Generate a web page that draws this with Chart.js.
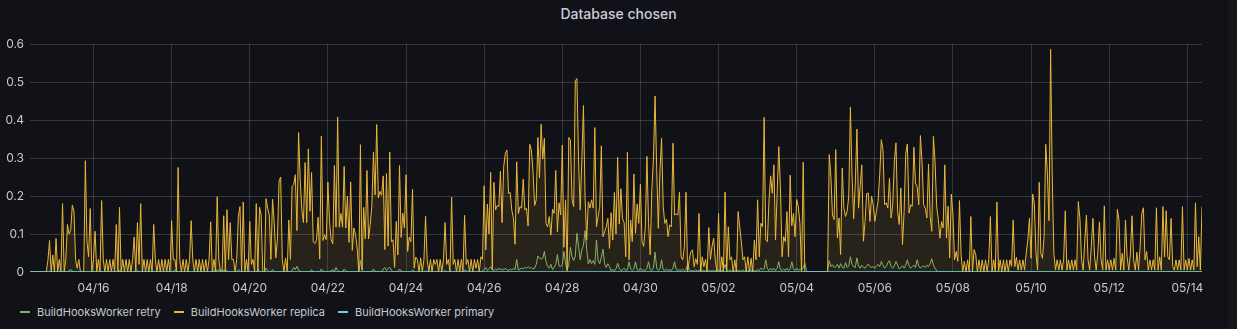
<!DOCTYPE html>
<html>
<head>
<meta charset="utf-8">
<script src="https://cdn.jsdelivr.net/npm/chart.js@4.4.1/dist/chart.umd.min.js"></script>
<style>
  html, body { margin: 0; padding: 0; background: #111217; }
  body { width: 1237px; height: 329px; position: relative; overflow: hidden; font-family: Inter, "Noto Sans", sans-serif; }
  #title { position: absolute; top: 5px; left: 0; width: 1237px; text-align: center; color: #ccccdc; font-size: 14px; font-weight: 500; }
  #chart { position: absolute; top: 0; left: 0; }
  #legend { position: absolute; top: 304px; left: 20px; color: #c7c9d1; font-size: 11px; line-height: 16px; white-space: nowrap; }
  #legend span.item { display: inline-block; margin-right: 13px; }
  #legend span.mark { display: inline-block; width: 10px; height: 2px; vertical-align: middle; margin-right: 7px; position: relative; top: -1px; }
  #edge { position: absolute; top: 0; left: 1228px; width: 9px; height: 329px; background: #16171c; }
</style>
</head>
<body>
<div id="title">Database chosen</div>
<canvas id="chart" width="1237" height="300"></canvas>
<div id="legend"></div>
<div id="edge"></div>
<script>
// hourly samples, starting 04/14 ~09:00, one line per day
const replica = [
  0,0,0,0,0,0,0,0,0,0,0,0.03,0.083,0,0.045,0,0.088,0,0.033,0,0.18,0,0.033,0.125,
  0.1,0.11,0.176,0.16,0.033,0.01,0.033,0,0,0,0.293,0.08,0.04,0.167,0,0.033,0.107,0,0.033,0,0.188,0.033,0,0.033,
  0,0.033,0,0.033,0,0.125,0,0.17,0,0.033,0,0.033,0,0.033,0,0.033,0.092,0,0.13,0.02,0.18,0,0.033,0,
  0.033,0,0.033,0,0.125,0.033,0,0.033,0,0.033,0,0.033,0,0.033,0,0.135,0.033,0.033,0,0.275,0.033,0,0.033,0,
  0.033,0,0.033,0.135,0.033,0,0.033,0,0.033,0,0.033,0,0.033,0,0.033,0.132,0,0.033,0,0.198,0.033,0,0,0.148,
  0,0.164,0.033,0.13,0.033,0.033,0,0.033,0.146,0.172,0,0.184,0,0.033,0,0.133,0.02,0.033,0,0.18,0,0.171,0.15,0,
  0,0.193,0.168,0.15,0.033,0.192,0.133,0.037,0.087,0.24,0.25,0.033,0,0.037,0,0.137,0.033,0.225,0.23,0.256,0.109,0.367,0.242,0.164,
  0.13,0.288,0.13,0.324,0.16,0.262,0.08,0.075,0.085,0.144,0.034,0.358,0.083,0.098,0.085,0.237,0.133,0.085,0.074,0.28,0.118,0.408,0.118,0.154,
  0.118,0.278,0.116,0.2,0.078,0.237,0.057,0.116,0.098,0.063,0,0.335,0.006,0.17,0.087,0.267,0.087,0.125,0.173,0.316,0.203,0.388,0.195,0.212,
  0.202,0.253,0.059,0.259,0.068,0.316,0.08,0.085,0.012,0.133,0.045,0.28,0.091,0.155,0.116,0.256,0.054,0.092,0.08,0.218,0.01,0.039,0.033,0,
  0.037,0,0.033,0.147,0.033,0,0.033,0,0.033,0.02,0.033,0,0.033,0,0.033,0.13,0.02,0.033,0,0.197,0.02,0.033,0,0.033,
  0,0.033,0,0.149,0.02,0.033,0,0.033,0,0.033,0.01,0.033,0,0.04,0.033,0.227,0.058,0.179,0.1,0.262,0.005,0.236,0.163,0.175,
  0.172,0.265,0.13,0.277,0.312,0.321,0.207,0.209,0.163,0.141,0.073,0.29,0.154,0.172,0.168,0.244,0.163,0.168,0.121,0.336,0.321,0.266,0.175,0.19,
  0.354,0.248,0.389,0.297,0.352,0.128,0.119,0.146,0.097,0.165,0.154,0.267,0.106,0.182,0.15,0.334,0.065,0.19,0.003,0.354,0.347,0.19,0.172,0.503,
  0.509,0.295,0.163,0.295,0.438,0.198,0.084,0.185,0.168,0.19,0.168,0.38,0.119,0.146,0.172,0.332,0.093,0.106,0.119,0.141,0.062,0.156,0.084,0.209,
  0.1,0.302,0.126,0.219,0.141,0.13,0.04,0.315,0.032,0.137,0.08,0.258,0.102,0.179,0.128,0.231,0.08,0.067,0.119,0.304,0.128,0.045,0.216,0.3,
  0.463,0.27,0.115,0.268,0.352,0.172,0.128,0.139,0.093,0.124,0.119,0.339,0.15,0.153,0.15,0.21,0.04,0.032,0.067,0.21,0,0.033,0.054,0.058,
  0.014,0.035,0.02,0.154,0,0.04,0.014,0.033,0,0.117,0.033,0.067,0.089,0.032,0,0.154,0,0.04,0,0.21,0,0.119,0.032,0.04,
  0,0.032,0,0.159,0.119,0.08,0.032,0.04,0,0.04,0,0.036,0,0.084,0.032,0.19,0.04,0.128,0.119,0.407,0.084,0.08,0.19,0.253,
  0.207,0.282,0.084,0.207,0.33,0.225,0.04,0.093,0.08,0.159,0.04,0.255,0.122,0.154,0.093,0.191,0.172,0.128,0,0.289,0,0,0,0,
  0,0,0,0,0,0,0,0,0,0,0,0.309,0.252,0.15,0.138,0.322,0.09,0.142,0.046,0.274,0.168,0.146,0.16,0.2,
  0.434,0.256,0.14,0.234,0.376,0.168,0.227,0.282,0.081,0.133,0.206,0.208,0.133,0.2,0.177,0.133,0.16,0.186,0.256,0.348,0.322,0.177,0.182,0.168,
  0.247,0.142,0.177,0.291,0.34,0.16,0.125,0.221,0.072,0.16,0.313,0.337,0.155,0.177,0.173,0.328,0.234,0.225,0.177,0.359,0.291,0.177,0.168,0.142,
  0.284,0.146,0.107,0.357,0.291,0.173,0.138,0.089,0.133,0.116,0.282,0.089,0.173,0.037,0.205,0.151,0.032,0.054,0.028,0.188,0.046,0,0.028,0,
  0.032,0,0.146,0,0.059,0.046,0,0.032,0,0.032,0,0.032,0,0.032,0.146,0,0.032,0,0.184,0,0.032,0,0.032,0,
  0.032,0,0.032,0.015,0.137,0.014,0.039,0.005,0.032,0.005,0.032,0.005,0.049,0.084,0.141,0.036,0.205,0.18,0.049,0.005,0.236,0.049,0.036,0.093,
  0.336,0.26,0.135,0.586,0.25,0.049,0.005,0.032,0.005,0.032,0.005,0.032,0.161,0.005,0.032,0.005,0.032,0.005,0.032,0.005,0.185,0.141,0.032,0.005,
  0.084,0.15,0.032,0.005,0.067,0.141,0.04,0.005,0.049,0.132,0.032,0.005,0.174,0.005,0.032,0.005,0.032,0.005,0.036,0.005,0.165,0.137,0.005,0.049,
  0.005,0.137,0.04,0.005,0.049,0.148,0.032,0.005,0.052,0.005,0.067,0.154,0.169,0.032,0.054,0.005,0.032,0.005,0.032,0.005,0.169,0.005,0.04,0.005,
  0.172,0.04,0.161,0.04,0.032,0.141,0.014,0.005,0.032,0.005,0.032,0.005,0.172,0.005,0.032,0.005,0.036,0.005,0.032,0.005,0.182,0.014,0.093,0.005,
  0.172
];

const retry = [
  0,0,0,0,0,0,0,0,0,0,0,0,0,0,0,0,0,0,0,0,0,0,0,0,
  0.004,0.006,0.003,0,0,0,0,0,0,0,0,0,0,0,0,0,0,0,0,0,0,0,0,0,
  0,0,0,0,0,0,0,0.005,0,0,0,0,0,0,0,0,0,0,0.004,0,0,0,0,0,
  0,0,0,0,0,0,0,0,0,0,0,0,0,0,0,0,0,0.006,0.003,0,0,0,0,0,
  0,0,0,0,0,0,0,0,0,0,0,0,0,0,0,0,0,0.004,0,0.006,0.004,0.008,0.003,0.005,
  0.004,0.003,0,0,0,0,0,0,0.006,0.002,0,0,0,0,0,0,0,0,0,0,0.006,0.002,0,0,
  0,0.01,0.004,0,0,0.006,0.002,0,0,0,0,0,0,0,0,0,0,0.004,0.012,0.006,0.015,0.005,0.002,0,
  0,0,0,0,0,0.006,0,0,0,0,0,0.008,0.003,0,0,0,0,0.004,0.006,0.002,0.012,0.004,0,0,
  0,0.008,0.003,0,0,0,0,0,0,0,0,0.03,0.004,0,0,0,0,0,0,0.008,0.002,0,0,0,
  0,0.008,0.012,0.004,0.01,0.012,0.005,0,0,0,0,0.008,0.003,0,0,0,0,0,0,0.005,0.002,0,0,0,
  0,0,0,0.003,0,0,0,0,0,0,0,0,0,0,0,0.004,0,0,0,0,0,0,0,0,
  0,0,0,0.005,0.004,0,0,0,0,0,0,0,0,0,0.004,0.006,0.012,0.004,0.008,0.014,0.006,0.004,0.008,0.005,
  0.01,0.006,0.008,0.005,0.01,0.006,0.004,0.008,0.005,0.01,0.006,0.033,0.005,0.008,0.01,0.008,0.012,0.01,0.014,0.01,0.012,0.008,0.01,0.02,
  0.042,0.036,0.034,0.036,0.054,0.027,0.015,0.01,0.02,0.006,0.012,0.02,0.046,0.016,0.014,0.02,0.054,0.022,0.006,0.02,0.065,0.04,0.03,0.042,
  0.102,0.067,0.032,0.058,0.07,0.109,0.06,0.021,0.033,0.022,0.03,0.02,0.084,0.03,0.022,0.04,0.06,0.022,0.012,0.022,0.014,0.004,0.006,0.004,
  0.008,0.023,0.01,0.004,0.006,0.01,0.004,0.006,0.027,0.008,0.004,0.008,0.027,0.006,0.004,0.01,0.004,0.006,0.004,0.01,0.027,0.006,0.004,0.01,
  0.052,0.01,0.004,0.008,0.032,0.006,0.004,0.008,0.004,0.006,0.004,0.01,0.027,0.006,0.004,0.006,0.004,0.008,0.004,0.006,0.02,0.006,0.002,0.004,
  0.002,0.006,0.002,0.004,0.008,0.002,0.004,0.002,0.006,0.002,0.004,0.002,0.004,0.002,0.004,0.006,0.002,0.004,0.006,0.02,0.004,0.002,0.006,0.002,
  0.004,0.002,0.006,0.002,0.004,0.002,0.006,0.002,0.004,0.002,0.004,0.006,0.002,0.004,0.002,0.006,0.004,0.01,0.006,0.008,0.032,0.008,0.004,0.01,
  0.004,0.01,0.004,0.01,0.027,0.006,0.004,0.008,0.004,0.01,0.004,0.008,0.027,0.008,0.004,0.01,0.004,0.008,0.006,0.01,0.023,0.004,0,0,
  0,0,0,0,0,0,0,0,0,0,0.004,0.03,0.014,0.019,0.012,0.014,0.02,0.01,0.022,0.012,0.01,0.025,0.012,0.016,
  0.04,0.02,0.014,0.012,0.037,0.016,0.01,0.018,0.012,0.01,0.016,0.021,0.014,0.012,0.014,0.01,0.016,0.02,0.014,0.028,0.018,0.01,0.014,0.024,
  0.03,0.014,0.01,0.016,0.028,0.018,0.008,0.012,0.016,0.01,0.018,0.032,0.016,0.01,0.014,0.018,0.012,0.032,0.016,0.01,0.014,0.016,0.012,0.018,
  0.014,0.022,0.035,0.018,0.01,0.003,0,0,0,0,0,0,0,0,0,0,0,0,0,0,0,0,0,0,
  0,0,0,0,0,0,0,0,0,0,0,0,0,0,0,0,0,0,0,0,0,0,0,0,
  0,0,0,0,0,0,0,0,0,0,0,0,0,0,0,0,0,0,0,0,0,0,0,0,
  0,0,0,0,0,0,0,0,0,0,0,0,0,0,0,0,0,0,0,0,0,0,0,0,
  0,0,0,0,0,0,0,0,0,0,0,0,0,0,0,0,0,0,0,0,0,0,0,0,
  0,0,0,0,0,0,0,0,0,0,0,0,0,0,0,0,0,0,0,0,0,0,0,0,
  0,0,0,0,0,0,0,0,0,0,0,0,0,0,0,0,0,0,0,0,0,0,0,0,
  0
];

// primary stays flat at zero; sampled every 6 hours
const primaryStep = 6;
const primary = [
  0,0,0,0,0,0,0,0,0,0,0,0,0,0,0,0,0,0,0,0,0,0,0,0,
  0,0,0,0,0,0,0,0,0,0,0,0,0,0,0,0,0,0,0,0,0,0,0,0,
  0,0,0,0,0,0,0,0,0,0,0,0,0,0,0,0,0,0,0,0,0,0,0,0,
  0,0,0,0,0,0,0,0,0,0,0,0,0,0,0,0,0,0,0,0,0,0,0,0,
  0,0,0,0,0,0,0,0,0,0,0,0,0,0,0,0,0,0,0,0,0,0,0,0,
  0
];

const tickLabels = ['04/16','04/18','04/20','04/22','04/24','04/26','04/28','04/30',
                    '05/02','05/04','05/06','05/08','05/10','05/12','05/14'];
const firstTickHour = 39;   // 04/16 00:00, hours after the first sample
const tickEvery = 48;

const seriesNames = ['BuildHooksWorker retry', 'BuildHooksWorker replica', 'BuildHooksWorker primary'];
const seriesColors = ['#7EB26D', '#EAB839', '#6ED0E0'];

const textColor = '#c7c9d1';
const gridColor = 'rgba(204,204,220,0.2)';

Chart.defaults.font.family = 'Inter, "Noto Sans", sans-serif';
Chart.defaults.font.size = 12;
Chart.defaults.color = textColor;

const hourly = arr => arr.map((v, i) => ({ x: i, y: v }));

new Chart(document.getElementById('chart'), {
  type: 'line',
  data: {
    datasets: [
      {
        label: seriesNames[0], data: hourly(retry),
        borderColor: seriesColors[0], borderWidth: 1, pointRadius: 0, fill: false, tension: 0, order: 3
      },
      {
        label: seriesNames[1], data: hourly(replica),
        borderColor: seriesColors[1], backgroundColor: 'rgba(234,184,57,0.1)',
        borderWidth: 1, pointRadius: 0, fill: 'origin', tension: 0, order: 2
      },
      {
        label: seriesNames[2], data: primary.map((v, i) => ({ x: i * primaryStep, y: v })),
        borderColor: seriesColors[2], borderWidth: 1.5, pointRadius: 0, fill: false, tension: 0, order: 1
      }
    ]
  },
  options: {
    responsive: false,
    animation: false,
    layout: { padding: { top: 44, right: 35, left: 0, bottom: 0 } },
    plugins: {
      legend: { display: false },
      title: { display: false },
      tooltip: { enabled: false }
    },
    scales: {
      x: {
        type: 'linear',
        min: 0,
        max: replica.length - 1,
        border: { display: false },
        grid: { color: gridColor, drawTicks: false },
        afterBuildTicks: scale => {
          scale.ticks = tickLabels.map((l, i) => ({ value: firstTickHour + i * tickEvery }));
        },
        afterFit: scale => { scale.height = 28; },
        ticks: {
          padding: 9,
          maxRotation: 0,
          autoSkip: false,
          callback: (v, i) => tickLabels[i]
        }
      },
      y: {
        min: 0,
        max: 0.6,
        border: { display: false },
        grid: { color: ctx => ctx.tick.value === 0 ? 'rgba(0,0,0,0)' : gridColor, drawTicks: false },
        afterFit: scale => { scale.width = 30; },
        ticks: { stepSize: 0.1, padding: 6 }
      }
    }
  }
});

// legend in the grafana style: short line marker + name
const legend = document.getElementById('legend');
seriesNames.forEach((name, i) => {
  const item = document.createElement('span');
  item.className = 'item';
  const mark = document.createElement('span');
  mark.className = 'mark';
  mark.style.background = seriesColors[i];
  item.appendChild(mark);
  item.appendChild(document.createTextNode(name));
  legend.appendChild(item);
});
</script>
</body>
</html>
